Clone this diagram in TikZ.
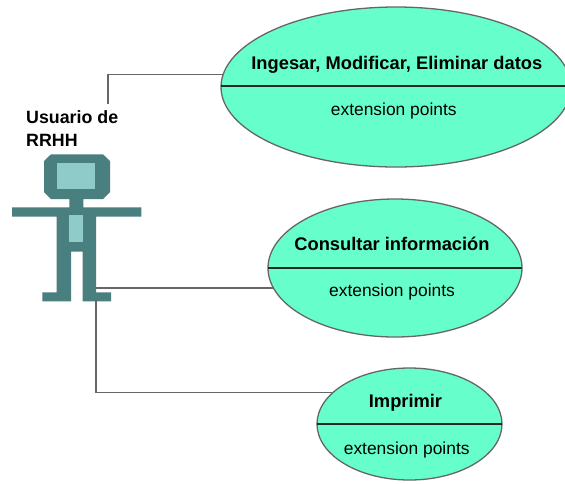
\documentclass[tikz,border=0pt]{standalone}
\usepackage{fontspec}
\setmainfont{Liberation Sans}
\usetikzlibrary{shapes.geometric}
\definecolor{usecase}{HTML}{66FFCC}
\definecolor{actordark}{HTML}{4A7F80}
\definecolor{actorlight}{HTML}{8FCBC9}
\definecolor{edgegray}{HTML}{666666}
\tikzset{
  x=1pt,y=-1pt,
  ucase/.style={ellipse,draw=edgegray,fill=usecase,line width=1.3pt,inner sep=0,outer sep=0},
  divider/.style={draw=black!85,line width=1.2pt},
  link/.style={draw=edgegray,line width=1.15pt},
  ucname/.style={font=\fontsize{18.3}{20}\selectfont\bfseries,inner sep=0,anchor=base},
  ucext/.style={font=\fontsize{17.4}{20}\selectfont,inner sep=0,anchor=base},
  actorbody/.style={fill=actordark,draw=none},
  actorpanel/.style={fill=actorlight,draw=none},
}
\begin{document}
\begin{tikzpicture}
\clip (0,0) rectangle (565,483);
\fill[white] (0,0) rectangle (565,483);
% actor
\fill[actorbody] (51,154.3) -- (103,154.3) -- (110,161) -- (110,192) -- (103,199) -- (83.3,199) -- (83.3,207.3)
  -- (141.3,207.3) -- (141.3,216.7) -- (96,216.7) -- (96,292.3) -- (111,292.3) -- (111,301.3) -- (82.7,301.3)
  -- (82.7,251.7) -- (71,251.7) -- (71,301.3) -- (42.3,301.3) -- (42.3,292.3) -- (56.7,292.3) -- (56.7,216.7)
  -- (12,216.7) -- (12,207.3) -- (69.3,207.3) -- (69.3,199) -- (51,199) -- (44,192) -- (44,161) -- cycle;
\fill[actorpanel] (56.7,162.7) rectangle (95,189.3);
\fill[actorpanel] (69.3,215) rectangle (82.7,242.3);
\node[anchor=base west,inner sep=0,font=\fontsize{17.8}{20}\selectfont\bfseries] (actor) at (26,123.5) {Usuario de};
\node[anchor=base west,inner sep=0,font=\fontsize{17.8}{20}\selectfont\bfseries] (actorb) at (26,146.5) {RRHH};
\coordinate (a1) at (108,104);
\coordinate (a2) at (96,288);
\coordinate (a3) at (96,300);
% use cases
\node[ucase,minimum width=350,minimum height=160] (e1) at (396,87) {};
\node[ucase,minimum width=254,minimum height=138] (e2) at (395,268) {};
\node[ucase,minimum width=185,minimum height=112] (e3) at (409.5,424) {};
\coordinate (d1l) at ([yshift=1pt]e1.west);
\coordinate (d1r) at ([yshift=1pt]e1.east);
\draw[divider] (d1l) -- (d1r);
\draw[divider] (e2.west) -- (e2.east);
\draw[divider] (e3.west) -- (e3.east);
\node[ucname] (n1) at (396.8,69.3) {Ingesar, Modificar, Eliminar datos};
\node[ucext] (x1) at (393.8,115.7) {extension points};
\node[ucname] (n2) at (392,250) {Consultar información};
\node[ucext] (x2) at (392,296.7) {extension points};
\node[ucname] (n3) at (405.5,407.3) {Imprimir};
\node[ucext] (x3) at (406.7,454) {extension points};
% connectors
\draw[link] (a1) |- (e1.176.4);
\draw[link] (a2) -- (a2 -| e2.189.34);
\draw[link] (a3) |- (e3.158.1);
\end{tikzpicture}
\end{document}
